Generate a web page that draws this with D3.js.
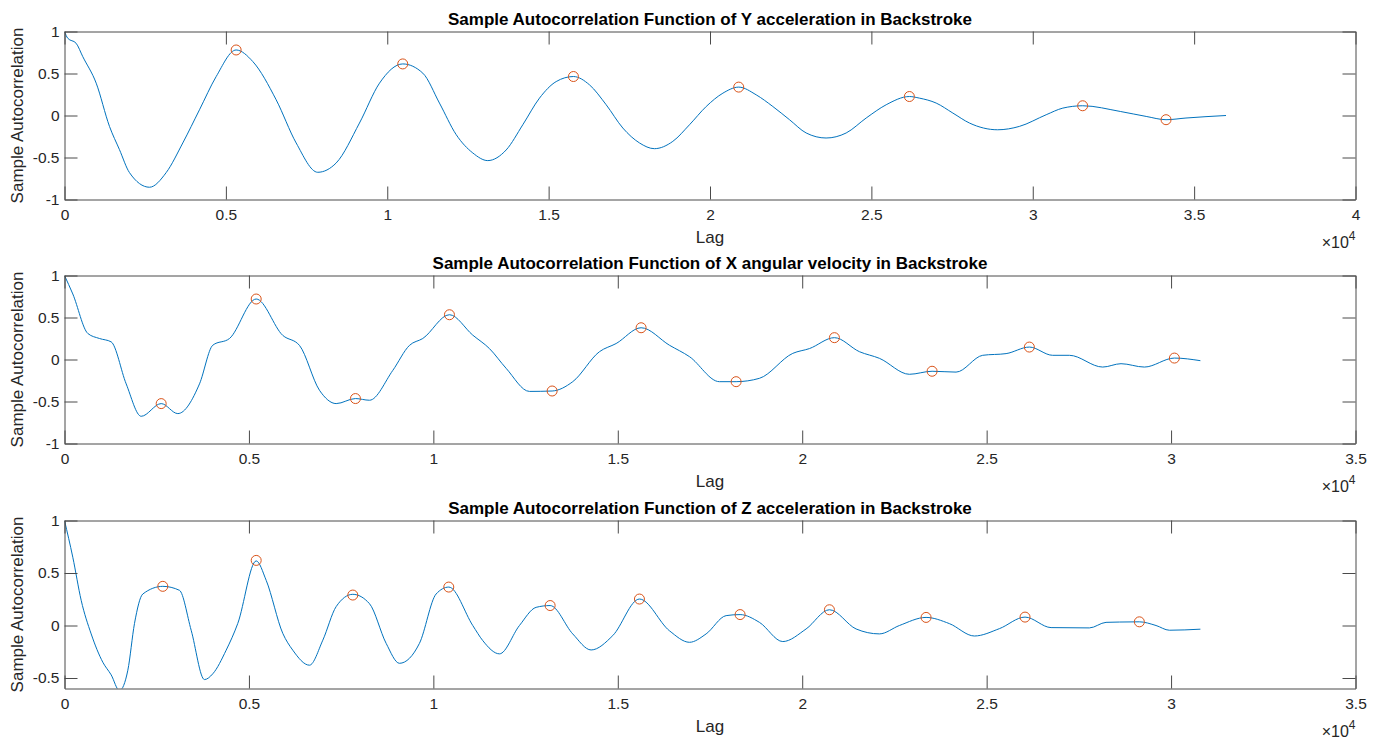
<!DOCTYPE html>
<html><head><meta charset="utf-8">
<script src="https://cdn.jsdelivr.net/npm/d3@7"></script>
<style>
body{margin:0;background:#fff}
svg{display:block}
text{font-family:"Liberation Sans",Arial,Helvetica,sans-serif}
</style>
</head><body>
<script>
// ---------- Data ----------
const titles = [
  "Sample Autocorrelation Function of Y acceleration in Backstroke",
  "Sample Autocorrelation Function of X angular velocity in Backstroke",
  "Sample Autocorrelation Function of Z acceleration in Backstroke"
];

const yAccLag = [0,100,360,567,982,1394,1704,2013,2633,3150,3665,4182,4700,5318,5835,6558,7178,7848,8418,9139,9760,10480,11102,11617,12136,12651,13114,13685,14200,14717,15234,15769,16266,16783,17299,17816,18278,18848,19365,19882,20400,20890,21432,21947,22463,22980,23597,24219,24839,25459,26177,26487,27008,27525,28041,28913,29585,30416,30932,31546,32713,33515,34130,34748,35988];
const yAccAcf = [1,0.92,0.86,0.70,0.385,-0.13,-0.407,-0.68,-0.854,-0.68,-0.327,0.068,0.464,0.78,0.642,0.187,-0.327,-0.676,-0.565,-0.09,0.385,0.614,0.504,0.148,-0.228,-0.446,-0.537,-0.41,-0.11,0.207,0.404,0.464,0.365,0.128,-0.149,-0.327,-0.395,-0.308,-0.11,0.107,0.266,0.338,0.246,0.107,-0.05,-0.208,-0.268,-0.208,-0.03,0.128,0.226,0.207,0.148,0.029,-0.09,-0.17,-0.13,0.009,0.088,0.116,0.048,-0.011,-0.05,-0.03,0.0];
const yAccPeakLag = [5318,10480,15769,20890,26177,31546,34130];
const yAccPeakAcf = [0.78,0.614,0.464,0.338,0.226,0.116,-0.05];

const xAngLag = [0,225,632,949,1265,1672,2079,2621,3072,3660,4020,4473,5197,5918,6370,6912,7365,7888,8268,8900,9352,9713,10436,11068,11521,11973,12605,13220,13779,14503,14955,15632,16400,16943,17756,18208,18840,19744,20196,20873,21551,22093,22906,23521,24171,24893,25527,26158,26790,27242,28146,28643,29276,30090,30795];
const xAngAcf = [1,0.78,0.31,0.25,0.21,-0.29,-0.676,-0.525,-0.644,-0.29,0.17,0.25,0.72,0.287,0.168,-0.366,-0.525,-0.465,-0.485,-0.13,0.168,0.25,0.533,0.29,0.13,-0.105,-0.38,-0.375,-0.264,0.093,0.19,0.378,0.17,0.034,-0.264,-0.264,-0.224,0.073,0.13,0.26,0.093,0.014,-0.176,-0.14,-0.15,0.05,0.07,0.148,0.05,0.05,-0.09,-0.05,-0.09,0.017,-0.014];
const xAngPeakLag = [2621,5197,7888,10436,13220,15632,18208,20873,23521,26158,30090];
const xAngPeakAcf = [-0.525,0.72,-0.465,0.533,-0.375,0.378,-0.264,0.26,-0.14,0.148,0.017];

const zAccLag = [0,225,452,723,1039,1265,1490,1717,1898,2123,2665,3117,3434,3795,4020,4383,4698,5197,5468,5918,6189,6641,7003,7365,7816,8268,8720,9081,9623,10075,10418,11068,11340,11792,12334,12786,13166,13779,14277,14864,15587,16400,16943,17395,17937,18316,18840,19473,20105,20738,21461,22093,22635,23358,23990,24668,25346,26041,26747,27785,28237,28598,29140,29592,29954,30795];
const zAccAcf = [1,0.65,0.24,-0.08,-0.35,-0.47,-0.62,-0.426,0.02,0.30,0.373,0.335,-0.045,-0.515,-0.46,-0.235,0.02,0.615,0.43,-0.075,-0.235,-0.378,-0.14,0.18,0.297,0.208,-0.17,-0.36,-0.17,0.30,0.366,0.0,-0.144,-0.27,0.0,0.173,0.19,-0.08,-0.233,-0.096,0.252,-0.05,-0.16,-0.08,0.094,0.104,0.03,-0.153,-0.033,0.15,-0.033,-0.08,0.0,0.077,0.018,-0.1,-0.03,0.08,-0.02,-0.023,0.03,0.033,0.035,0.0,-0.045,-0.035];
const zAccPeakLag = [2665,5197,7816,10418,13166,15587,18316,20738,23358,26041,29140];
const zAccPeakAcf = [0.373,0.62,0.29,0.366,0.19,0.252,0.104,0.15,0.077,0.08,0.035];

const xTicks40 = [0,5000,10000,15000,20000,25000,30000,35000,40000];
const xTickLabels40 = ["0","0.5","1","1.5","2","2.5","3","3.5","4"];
const xTicks35 = [0,5000,10000,15000,20000,25000,30000,35000];
const xTickLabels35 = ["0","0.5","1","1.5","2","2.5","3","3.5"];
const yTicksFull = [-1,-0.5,0,0.5,1];
const yTickLabelsFull = ["-1","-0.5","0","0.5","1"];
const yTicksZ = [-0.5,0,0.5,1];
const yTickLabelsZ = ["-0.5","0","0.5","1"];

const xLabel = "Lag";
const yLabel = "Sample Autocorrelation";

// ---------- Layout ----------
const W = 1381, H = 740;
const left = 64.5, right = 1355.5;
const panels = [
  {title: titles[0], lag: yAccLag, acf: yAccAcf, pLag: yAccPeakLag, pAcf: yAccPeakAcf,
   xMax: 40000, xTicks: xTicks40, xLabels: xTickLabels40, yMin: -1, yTicks: yTicksFull, yLabels: yTickLabelsFull, top: 31.5, bottom: 199.5},
  {title: titles[1], lag: xAngLag, acf: xAngAcf, pLag: xAngPeakLag, pAcf: xAngPeakAcf,
   xMax: 35000, xTicks: xTicks35, xLabels: xTickLabels35, yMin: -1, yTicks: yTicksFull, yLabels: yTickLabelsFull, top: 275.5, bottom: 443.5},
  {title: titles[2], lag: zAccLag, acf: zAccAcf, pLag: zAccPeakLag, pAcf: zAccPeakAcf,
   xMax: 35000, xTicks: xTicks35, xLabels: xTickLabels35, yMin: -0.6, yTicks: yTicksZ, yLabels: yTickLabelsZ, top: 520.5, bottom: 688.5}
];

const axisColor = "#4a4a4a";
const textColor = "#262626";
const lineColor = "#0072BD";
const markColor = "#D95319";
const tickLen = 13;

const svg = d3.select("body").append("svg").attr("width", W).attr("height", H);

panels.forEach((p, i) => {
  const x = d3.scaleLinear().domain([0, p.xMax]).range([left, right]);
  const y = d3.scaleLinear().domain([p.yMin, 1]).range([p.bottom, p.top]);
  const g = svg.append("g");

  const clipId = "clip" + i;
  svg.append("clipPath").attr("id", clipId).append("rect")
    .attr("x", left).attr("y", p.top).attr("width", right - left).attr("height", p.bottom - p.top);

  // line
  const pts = p.lag.map((l, k) => [l, p.acf[k]]);
  g.append("path").datum(pts)
    .attr("clip-path", `url(#${clipId})`)
    .attr("fill", "none").attr("stroke", lineColor).attr("stroke-width", 1)
    .attr("d", d3.line().x(d => x(d[0])).y(d => y(d[1])).curve(d3.curveMonotoneX));

  // markers
  g.selectAll("circle.m").data(p.pLag.map((l, k) => [l, p.pAcf[k]])).join("circle")
    .attr("cx", d => x(d[0])).attr("cy", d => y(d[1])).attr("r", 5)
    .attr("fill", "none").attr("stroke", markColor).attr("stroke-width", 1);

  // axes
  const fmtX = (d) => p.xLabels[p.xTicks.indexOf(d)];
  const fmtY = (d) => p.yLabels[p.yTicks.indexOf(d)];
  const ax = [
    g.append("g").attr("transform", `translate(0,${p.bottom})`)
      .call(d3.axisBottom(x).tickValues(p.xTicks).tickFormat(fmtX).tickSizeInner(-tickLen).tickSizeOuter(0).tickPadding(9)),
    g.append("g").attr("transform", `translate(0,${p.top})`)
      .call(d3.axisTop(x).tickValues(p.xTicks).tickFormat("").tickSizeInner(-tickLen).tickSizeOuter(0)),
    g.append("g").attr("transform", `translate(${left},0)`)
      .call(d3.axisLeft(y).tickValues(p.yTicks).tickFormat(fmtY).tickSizeInner(-tickLen).tickSizeOuter(0).tickPadding(5)),
    g.append("g").attr("transform", `translate(${right},0)`)
      .call(d3.axisRight(y).tickValues(p.yTicks).tickFormat("").tickSizeInner(-tickLen).tickSizeOuter(0))
  ];
  ax.forEach(a => {
    a.select(".domain").attr("stroke", axisColor).attr("stroke-width", 1);
    a.selectAll(".tick line").attr("stroke", axisColor).attr("stroke-width", 1);
    a.selectAll(".tick text").attr("fill", textColor).style("font-size", "15.5px")
      .style("font-family", '"Liberation Sans",Arial,Helvetica,sans-serif');
  });

  // title
  g.append("text").attr("x", (left + right) / 2).attr("y", p.top - 7)
    .attr("text-anchor", "middle").attr("fill", "#000")
    .style("font-size", "17px").style("font-weight", "bold").text(p.title);

  // x label
  g.append("text").attr("x", (left + right) / 2).attr("y", p.bottom + 43)
    .attr("text-anchor", "middle").attr("fill", textColor)
    .style("font-size", "17px").text(xLabel);

  // exponent
  const ex = g.append("text").attr("x", right).attr("y", p.bottom + 48)
    .attr("text-anchor", "end").attr("fill", textColor).style("font-size", "16px");
  ex.append("tspan").text("\u00d710");
  ex.append("tspan").attr("dy", -8).style("font-size", "12px").text("4");

  // y label
  g.append("text")
    .attr("transform", `translate(23,${(p.top + p.bottom) / 2}) rotate(-90)`)
    .attr("text-anchor", "middle").attr("fill", textColor)
    .style("font-size", "17px").text(yLabel);
});
</script>
</body></html>
